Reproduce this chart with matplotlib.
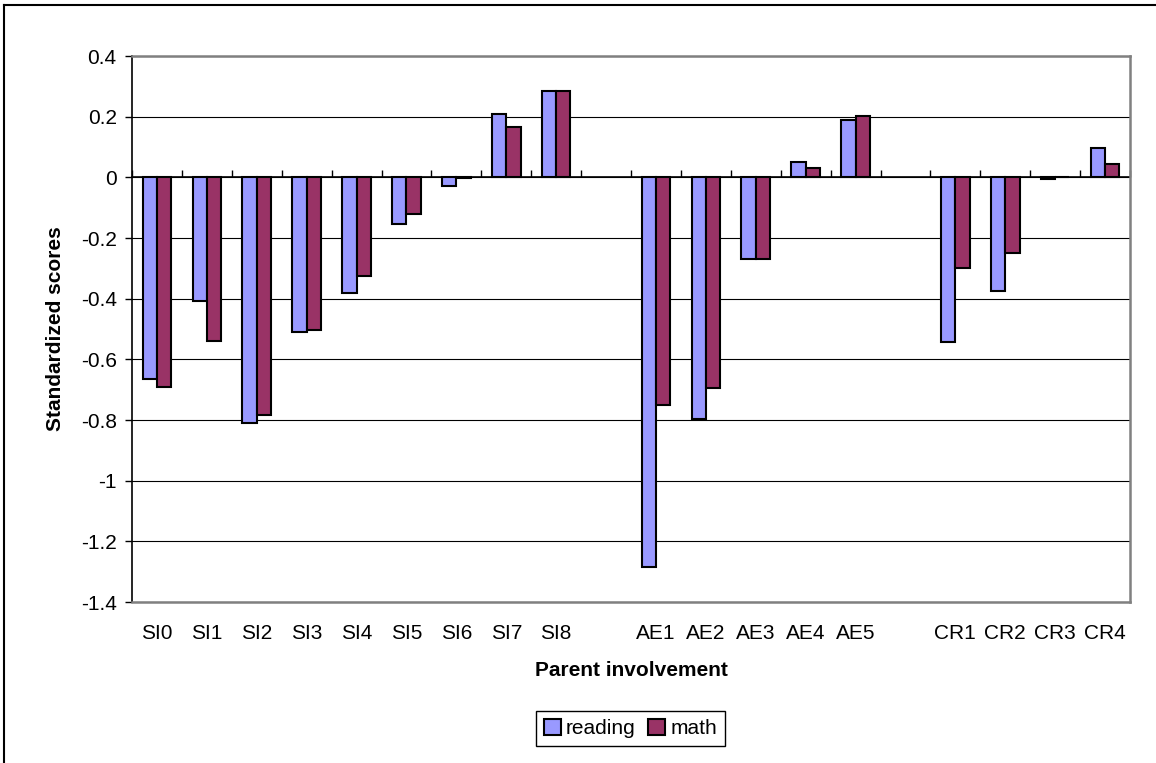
import numpy as np
from matplotlib import pyplot as plt
from matplotlib.lines import Line2D

plt.rcParams['font.family'] = ['Liberation Sans', 'DejaVu Sans']
plt.rcParams['font.size'] = 15

# Scores per parent involvement item, three groups with a blank slot between them
groups = [['SI0', 'SI1', 'SI2', 'SI3', 'SI4', 'SI5', 'SI6', 'SI7', 'SI8'],
          ['AE1', 'AE2', 'AE3', 'AE4', 'AE5'],
          ['CR1', 'CR2', 'CR3', 'CR4']]
reading = [-0.665, -0.407, -0.809, -0.509, -0.380, -0.153, -0.029, 0.208, 0.283,
           -1.285, -0.796, -0.270, 0.049, 0.188,
           -0.544, -0.374, -0.005, 0.097]
math = [-0.691, -0.539, -0.785, -0.502, -0.326, -0.122, -0.003, 0.166, 0.283,
        -0.750, -0.693, -0.270, 0.030, 0.203,
        -0.299, -0.249, 0.002, 0.043]
yticks = [0.4, 0.2, 0, -0.2, -0.4, -0.6, -0.8, -1, -1.2, -1.4]

labels = []
pos = []
slot = 0
for g in groups:
    for name in g:
        labels.append(name)
        pos.append(slot)
        slot += 1
    slot += 1  # empty slot between groups
pos = np.array(pos)
n_slots = slot - 1

fig = plt.figure(figsize=(11.56, 7.63), dpi=100)
ax = fig.add_axes([132/1156, 1 - 602/763, 998/1156, 546/763])

w = 1 / 3.5
b1 = ax.bar(pos - w/2, reading, w, color='#9999FF', edgecolor='black', linewidth=1.5, zorder=3)
b2 = ax.bar(pos + w/2, math, w, color='#993366', edgecolor='black', linewidth=1.5, zorder=3)

ax.set_xlim(-0.5, n_slots - 0.5)
ax.set_ylim(-1.4, 0.4)
ax.set_yticks(yticks)
ax.set_yticklabels(['%g' % t for t in yticks])
ax.yaxis.grid(True, color='black', linewidth=0.8, zorder=0)
ax.set_axisbelow(True)
ax.tick_params(axis='y', direction='out', length=5, width=1, pad=6)

ax.set_xticks(pos)
ax.set_xticklabels(labels)
ax.tick_params(axis='x', length=0, pad=16)

for side in ['top', 'right', 'bottom']:
    ax.spines[side].set_color('#808080')
    ax.spines[side].set_linewidth(1.8)
ax.spines['left'].set_color('black')
ax.spines['left'].set_linewidth(1.2)

# category axis drawn along zero with tick marks between slots
zero_ax = ax.secondary_xaxis(0, transform=ax.transData)
zero_ax.set_xticks(np.arange(-0.5, n_slots, 1.0))
zero_ax.set_xticklabels([])
zero_ax.tick_params(direction='in', length=5, width=1)
for sp in zero_ax.spines.values():
    sp.set_color('black')
    sp.set_linewidth(1.2)

ax.set_ylabel('Standardized scores', fontweight='bold', labelpad=11)
ax.set_xlabel('Parent involvement', fontweight='bold', labelpad=13)

fig.legend([b1, b2], ['reading', 'math'], loc='center', bbox_to_anchor=(0.5455, 0.0452),
           ncol=2, fancybox=False, edgecolor='black', framealpha=1,
           handlelength=0.8, handleheight=0.8, handletextpad=0.25, columnspacing=0.6,
           borderpad=0.4, borderaxespad=0)

# chart area border
x0 = 4 / 1156
y0 = 1 - 5 / 763
fig.add_artist(Line2D([x0, 1], [y0, y0], color='black', linewidth=1.5, transform=fig.transFigure))
fig.add_artist(Line2D([x0, x0], [0, y0], color='black', linewidth=1.5, transform=fig.transFigure))

plt.savefig('out.png')
